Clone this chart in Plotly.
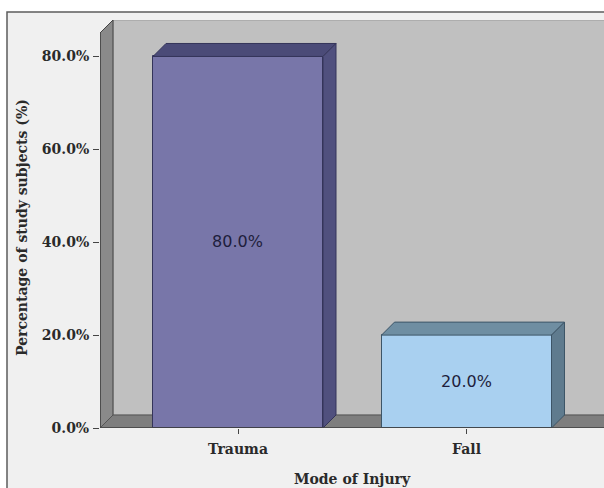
import plotly.graph_objects as go

categories = ["Trauma", "Fall"]
percentages = [80.0, 20.0]
bar_labels = ["80.0%", "20.0%"]
front_colors = ["#7876a9", "#a9d0f0"]
top_colors = ["#4b4b78", "#6f8ea2"]
side_colors = ["#50507e", "#5f7b8e"]
edge_colors = ["#34345a", "#3d5567"]
y_ticks = [0, 20, 40, 60, 80]
y_tick_labels = ["0.0%", "20.0%", "40.0%", "60.0%", "80.0%"]

W, H = 604, 488
ML, MR, MT, MB = 100, 0, 20, 60
plot_w = W - ML - MR
plot_h = H - MT - MB
px_per_cat = 228.5
px_per_pct = 4.644
x_lo = -138 / px_per_cat
x_hi = x_lo + plot_w / px_per_cat
y_top = plot_h / px_per_pct
dx = 13 / px_per_cat
dy = 13 / px_per_pct
bar_w = 170 / px_per_cat

xs = list(range(len(categories)))

fig = go.Figure()
fig.add_trace(go.Bar(
    x=xs, y=percentages, width=bar_w,
    marker=dict(color=front_colors, line=dict(color=edge_colors, width=1)),
    text=bar_labels, textposition="inside", insidetextanchor="middle",
    textfont=dict(family="DejaVu Sans", size=16, color="#1e1e3c"),
    textangle=0, hoverinfo="skip", showlegend=False,
))

shapes = []
# outer frame
shapes.append(dict(type="rect", xref="paper", yref="paper",
                   x0=(7 - ML) / plot_w, x1=1.2,
                   y0=-0.4, y1=(MT + plot_h - 12) / plot_h,
                   fillcolor="#f0f0f0", line=dict(color="#5c5c5c", width=1.5),
                   layer="below"))
# back wall
shapes.append(dict(type="rect", xref="x", yref="y",
                   x0=x_lo + dx, x1=x_hi + 1, y0=dy, y1=y_top,
                   fillcolor="#c0c0c0", line=dict(color="#9a9a9a", width=1),
                   layer="below"))
# left wall
shapes.append(dict(type="path", xref="x", yref="y",
                   path=f"M {x_lo},0 L {x_lo+dx},{dy} L {x_lo+dx},{y_top} L {x_lo},{y_top-dy} Z",
                   fillcolor="#8a8a8a", line=dict(color="#444444", width=1),
                   layer="below"))
# floor
shapes.append(dict(type="path", xref="x", yref="y",
                   path=f"M {x_lo},0 L {x_lo+dx},{dy} L {x_hi+1},{dy} L {x_hi+1},0 Z",
                   fillcolor="#7e7e7e", line=dict(color="#555555", width=1),
                   layer="below"))
# y axis line
shapes.append(dict(type="line", xref="x", yref="y",
                   x0=x_lo, x1=x_lo, y0=0, y1=y_top - dy,
                   line=dict(color="#444444", width=1.5), layer="below"))

# 3D bar faces
for x, v, tc, sc, ec in zip(xs, percentages, top_colors, side_colors, edge_colors):
    l, r = x - bar_w / 2, x + bar_w / 2
    shapes.append(dict(type="path", xref="x", yref="y",
                       path=f"M {l},{v} L {l+dx},{v+dy} L {r+dx},{v+dy} L {r},{v} Z",
                       fillcolor=tc, line=dict(color=ec, width=1), layer="above"))
    shapes.append(dict(type="path", xref="x", yref="y",
                       path=f"M {r},0 L {r+dx},{dy} L {r+dx},{v+dy} L {r},{v} Z",
                       fillcolor=sc, line=dict(color=ec, width=1), layer="above"))

shapes.append(dict(type="line", xref="x", yref="y",
                   x0=x_lo, x1=x_hi + 1, y0=0, y1=0,
                   line=dict(color="#444444", width=1.5), layer="above"))

fig.update_layout(
    width=W, height=H,
    margin=dict(l=ML, r=MR, t=MT, b=MB, autoexpand=False),
    paper_bgcolor="white",
    plot_bgcolor="rgba(0,0,0,0)",
    shapes=shapes,
    bargap=0,
    xaxis=dict(range=[x_lo, x_hi], tickvals=xs,
               ticktext=[f"<b>{c}</b>" for c in categories],
               showgrid=False, zeroline=False, showline=False,
               ticks="outside", ticklen=5, tickcolor="#444444",
               tickfont=dict(family="DejaVu Serif", size=14, color="#2a2a2a"),
               ticklabelstandoff=3, fixedrange=True),
    yaxis=dict(range=[0, y_top], tickvals=y_ticks,
               ticktext=[f"<b>{t}</b>" for t in y_tick_labels],
               showgrid=False, zeroline=False, showline=False,
               ticks="outside", ticklen=6, tickcolor="#444444",
               tickfont=dict(family="DejaVu Serif", size=14, color="#2a2a2a"),
               ticklabelstandoff=1, fixedrange=True),
    annotations=[
        dict(text="<b>Mode of Injury</b>", xref="paper", yref="paper",
             x=(352 - ML) / plot_w, y=-(479 - MT - plot_h) / plot_h,
             xanchor="center", yanchor="middle", showarrow=False,
             font=dict(family="DejaVu Serif", size=14, color="#2a2a2a")),
        dict(text="<b>Percentage of study subjects (%)</b>", xref="paper", yref="paper",
             x=(22 - ML) / plot_w, y=(MT + plot_h - 228) / plot_h,
             xanchor="center", yanchor="middle", textangle=-90, showarrow=False,
             font=dict(family="DejaVu Serif", size=14, color="#2a2a2a")),
    ],
)
fig.write_html("out.html")
